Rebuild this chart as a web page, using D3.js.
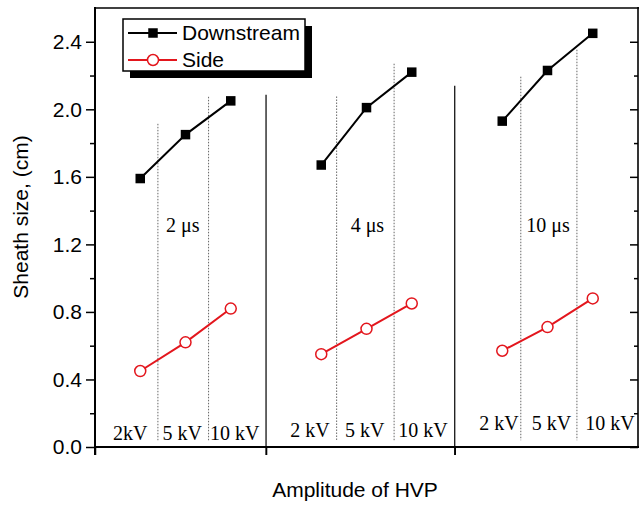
<!DOCTYPE html>
<html>
<head>
<meta charset="utf-8">
<script src="https://cdn.jsdelivr.net/npm/d3@7/dist/d3.min.js"></script>
<style>
  html, body { margin: 0; padding: 0; background: #fff; }
  svg { display: block; }
</style>
</head>
<body>
<svg id="chart" width="639" height="509"></svg>
<script>
// ---- data ----
const xPositions = [1, 2, 3, 5, 6, 7, 9, 10, 11];
const downstream = [1.59, 1.85, 2.05, 1.67, 2.01, 2.22, 1.93, 2.23, 2.45];
const side = [0.45, 0.62, 0.82, 0.55, 0.70, 0.85, 0.57, 0.71, 0.88];
const groups = [[0, 3], [3, 6], [6, 9]];
const yMajorTicks = [0.0, 0.4, 0.8, 1.2, 1.6, 2.0, 2.4];
const yMinorTicks = [0.2, 0.6, 1.0, 1.4, 1.8, 2.2];
const seriesNames = ["Downstream", "Side"];
const pulseLabels = ["2 \u03bcs", "4 \u03bcs", "10 \u03bcs"];
const pulseLabelX = [1.94, 6.02, 10.01];
const pulseLabelY = [1.274, 1.276, 1.274];
const kvLabels = ["2kV", "5 kV", "10 kV", "2 kV", "5 kV", "10 kV", "2 kV", "5 kV", "10 kV"];
const kvLabelX = [0.78, 1.93, 3.09, 4.75, 5.96, 7.25, 8.93, 10.09, 11.38];
const kvLabelY = [0.041, 0.041, 0.041, 0.059, 0.059, 0.059, 0.10, 0.10, 0.10];
const separatorX = [3.78, 7.95];
const separatorTop = [2.086, 2.14];
const dottedX = [1.39, 2.51, 5.34, 6.61, 9.41, 10.65];
const dottedTop = [1.914, 2.074, 2.076, 2.27, 2.193, 2.353];
const dottedBottom = 0.04;

// ---- layout ----
const L = 95, R = 638, T = 8, B = 447;
const svg = d3.select("#chart");
const x = d3.scaleLinear().domain([0, 12]).range([L, R]);
const y = d3.scaleLinear().domain([0, 2.6]).range([B, T]);
const sans = "'Liberation Sans', Arial, sans-serif";
const serif = "'Liberation Serif', 'Times New Roman', serif";
const red = "#e3161d";

// top frame
svg.append("line").attr("x1", L).attr("x2", R + 1).attr("y1", T).attr("y2", T)
  .attr("stroke", "#000").attr("stroke-width", 1.6);

// separators (solid)
svg.selectAll("line.sep").data(separatorX).join("line").attr("class", "sep")
  .attr("x1", d => x(d)).attr("x2", d => x(d))
  .attr("y1", (d, i) => y(separatorTop[i])).attr("y2", B + 8)
  .attr("stroke", "#000").attr("stroke-width", 1.2);

// dotted lines
svg.selectAll("line.dot").data(dottedX).join("line").attr("class", "dot")
  .attr("x1", d => x(d)).attr("x2", d => x(d))
  .attr("y1", (d, i) => y(dottedTop[i])).attr("y2", y(dottedBottom))
  .attr("stroke", "#666").attr("stroke-width", 1).attr("stroke-dasharray", "1.5,1.5");

// left axis
const gL = svg.append("g").attr("transform", `translate(${L},0)`);
gL.call(d3.axisLeft(y).tickValues(yMajorTicks).tickSize(9).tickPadding(4).tickFormat(d3.format(".1f")));
gL.append("g").call(d3.axisLeft(y).tickValues(yMinorTicks).tickSize(5).tickFormat(""));
gL.selectAll(".domain").remove();
gL.selectAll("line").attr("stroke-width", 1.5);
gL.selectAll("text").attr("font-family", sans).attr("font-size", 21).attr("fill", "#000");
svg.append("line").attr("x1", L).attr("x2", L).attr("y1", T - 1).attr("y2", B + 8)
  .attr("stroke", "#000").attr("stroke-width", 2);

// right axis (inward ticks)
const gR = svg.append("g").attr("transform", `translate(${R},0)`);
gR.call(d3.axisLeft(y).tickValues(yMajorTicks).tickSize(8).tickFormat(""));
gR.append("g").call(d3.axisLeft(y).tickValues(yMinorTicks).tickSize(4).tickFormat(""));
gR.selectAll(".domain").remove();
gR.selectAll("line").attr("stroke-width", 1.5);
svg.append("line").attr("x1", R).attr("x2", R).attr("y1", T - 1).attr("y2", B)
  .attr("stroke", "#000").attr("stroke-width", 1.6);

// bottom axis
const gB = svg.append("g").attr("transform", `translate(0,${B})`);
gB.call(d3.axisBottom(x).tickValues([0].concat(separatorX)).tickSize(8).tickFormat(""));
gB.selectAll(".domain").remove();
gB.selectAll("line").attr("stroke-width", 1.5);
svg.append("line").attr("x1", L - 1).attr("x2", R + 1).attr("y1", B).attr("y2", B)
  .attr("stroke", "#000").attr("stroke-width", 2);

// data lines
const line = d3.line().x(d => x(d[0])).y(d => y(d[1]));
groups.forEach(([a, b]) => {
  const ds = d3.range(a, b).map(i => [xPositions[i], downstream[i]]);
  const sd = d3.range(a, b).map(i => [xPositions[i], side[i]]);
  svg.append("path").attr("d", line(ds)).attr("fill", "none").attr("stroke", "#000").attr("stroke-width", 2);
  svg.append("path").attr("d", line(sd)).attr("fill", "none").attr("stroke", red).attr("stroke-width", 2);
});

// markers
const sq = 9.5;
svg.selectAll("rect.ds").data(downstream).join("rect").attr("class", "ds")
  .attr("x", (d, i) => x(xPositions[i]) - sq / 2).attr("y", d => y(d) - sq / 2)
  .attr("width", sq).attr("height", sq).attr("fill", "#000");
svg.selectAll("circle.sd").data(side).join("circle").attr("class", "sd")
  .attr("cx", (d, i) => x(xPositions[i])).attr("cy", d => y(d)).attr("r", 5.5)
  .attr("fill", "#fff").attr("stroke", red).attr("stroke-width", 1.5);

// annotations
svg.selectAll("text.pulse").data(pulseLabels).join("text").attr("class", "pulse")
  .attr("x", (d, i) => x(pulseLabelX[i])).attr("y", (d, i) => y(pulseLabelY[i]))
  .attr("text-anchor", "middle").attr("font-family", serif).attr("font-size", 20).text(d => d);
svg.selectAll("text.kv").data(kvLabels).join("text").attr("class", "kv")
  .attr("x", (d, i) => x(kvLabelX[i])).attr("y", (d, i) => y(kvLabelY[i]))
  .attr("text-anchor", "middle").attr("font-family", serif).attr("font-size", 20).text(d => d);

// axis titles
svg.append("text").attr("transform", "translate(28,217) rotate(-90)")
  .attr("text-anchor", "middle").attr("font-family", sans).attr("font-size", 21)
  .text("Sheath size, (cm)");
svg.append("text").attr("x", 355).attr("y", 497)
  .attr("text-anchor", "middle").attr("font-family", sans).attr("font-size", 21)
  .text("Amplitude of HVP");

// legend
const lg = svg.append("g");
lg.append("rect").attr("x", 130).attr("y", 26).attr("width", 182).attr("height", 52).attr("fill", "#000");
lg.append("rect").attr("x", 123).attr("y", 19).attr("width", 182).attr("height", 52)
  .attr("fill", "#fff").attr("stroke", "#000").attr("stroke-width", 1.5);
const legY = [33, 60];
const legColors = ["#000", red];
seriesNames.forEach((name, i) => {
  lg.append("line").attr("x1", 128).attr("x2", 177).attr("y1", legY[i]).attr("y2", legY[i])
    .attr("stroke", legColors[i]).attr("stroke-width", 2);
  if (i === 0) {
    lg.append("rect").attr("x", 153 - sq / 2).attr("y", legY[i] - sq / 2).attr("width", sq).attr("height", sq).attr("fill", "#000");
  } else {
    lg.append("circle").attr("cx", 153).attr("cy", legY[i]).attr("r", 5.5)
      .attr("fill", "#fff").attr("stroke", red).attr("stroke-width", 1.5);
  }
  lg.append("text").attr("x", 182).attr("y", legY[i] + 7).attr("font-family", sans)
    .attr("font-size", 21).text(name);
});
</script>
</body>
</html>
